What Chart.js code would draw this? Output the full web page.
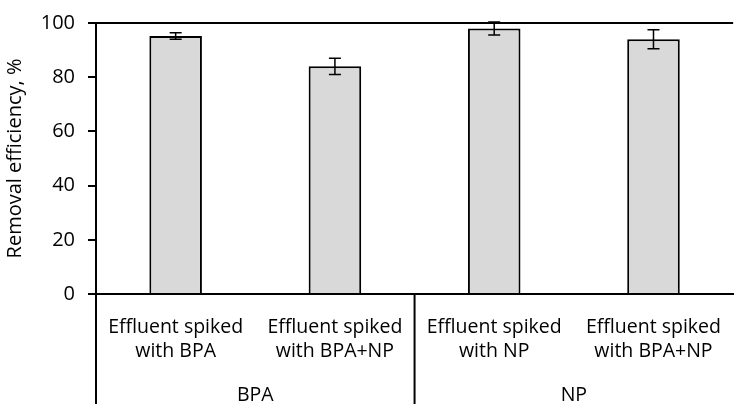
<!DOCTYPE html>
<html>
<head>
<meta charset="utf-8">
<script src="https://cdn.jsdelivr.net/npm/chart.js@4.4.1/dist/chart.umd.min.js"></script>
<style>
  html, body { margin: 0; padding: 0; background: #fff; }
  #wrap { width: 734px; height: 404px; }
</style>
</head>
<body>
<div id="wrap"><canvas id="barChart" width="734" height="404"></canvas></div>
<script>
// chart data
const categories = [
  ["Effluent spiked", "with BPA"],
  ["Effluent spiked", "with BPA+NP"],
  ["Effluent spiked", "with NP"],
  ["Effluent spiked", "with BPA+NP"]
];
const groups = ["BPA", "NP"];
const removal = [95.2, 84.0, 98.0, 94.0];
const errors = [1.2, 3.0, 2.4, 3.5];
const yTicks = [0, 20, 40, 60, 80, 100];

const FONT = "'Open Sans', sans-serif";

// error bars on top of each bar
const errorBars = {
  id: "errorBars",
  afterDatasetsDraw(chart) {
    const ctx = chart.ctx;
    const y = chart.scales.y;
    const meta = chart.getDatasetMeta(0);
    ctx.save();
    ctx.strokeStyle = "#000";
    ctx.lineWidth = 1.5;
    meta.data.forEach((bar, i) => {
      const hi = y.getPixelForValue(removal[i] + errors[i]);
      const lo = y.getPixelForValue(removal[i] - errors[i]);
      ctx.beginPath();
      ctx.moveTo(bar.x, hi);
      ctx.lineTo(bar.x, lo);
      ctx.moveTo(bar.x - 6, hi);
      ctx.lineTo(bar.x + 6, hi);
      ctx.moveTo(bar.x - 6, lo);
      ctx.lineTo(bar.x + 6, lo);
      ctx.stroke();
    });
    ctx.restore();
  }
};

// vertical separators of the two-level category axis
const groupLines = {
  id: "groupLines",
  afterDraw(chart) {
    const ctx = chart.ctx;
    const x = chart.scales.x;
    const area = chart.chartArea;
    const per = categories.length / groups.length;
    const xs = [area.left];
    for (let g = 1; g < groups.length; g++) {
      xs.push((x.getPixelForValue(g * per - 1) + x.getPixelForValue(g * per)) / 2);
    }
    ctx.save();
    ctx.strokeStyle = "#000";
    ctx.lineWidth = 2;
    xs.forEach(px => {
      ctx.beginPath();
      ctx.moveTo(px, area.bottom);
      ctx.lineTo(px, chart.height);
      ctx.stroke();
    });
    ctx.restore();
  }
};

new Chart(document.getElementById("barChart"), {
  type: "bar",
  data: {
    labels: categories,
    datasets: [{
      data: removal,
      backgroundColor: "#d9d9d9",
      borderColor: "#000",
      borderWidth: 2,
      categoryPercentage: 1,
      barPercentage: 0.33
    }]
  },
  options: {
    responsive: false,
    animation: false,
    layout: { padding: { top: 22, right: 0, left: 0, bottom: 0 } },
    plugins: {
      legend: { display: false },
      tooltip: { enabled: false }
    },
    scales: {
      y: {
        min: 0,
        max: 100,
        afterBuildTicks: scale => { scale.ticks = yTicks.map(v => ({ value: v })); },
        afterFit: scale => { scale.width = 96; },
        border: { display: true, color: "#000", width: 2 },
        grid: {
          color: c => (c.tick && c.tick.value === 100 ? "#000" : "rgba(0,0,0,0)"),
          lineWidth: 2,
          tickColor: "#000",
          tickLength: 8,
          drawOnChartArea: true
        },
        ticks: { color: "#000", font: { family: FONT, size: 20, lineHeight: 1 }, padding: 13 },
        title: {
          display: true,
          text: "Removal efficiency, %",
          color: "#000",
          font: { family: FONT, size: 20 },
          padding: { top: 3, bottom: 0 }
        }
      },
      x: {
        weight: 0,
        afterFit: scale => { scale.height = 82; },
        border: { display: true, color: "#000", width: 2 },
        grid: { display: false },
        ticks: {
          color: "#000",
          font: { family: FONT, size: 19.5, lineHeight: 1.25 },
          padding: 13,
          maxRotation: 0,
          autoSkip: false
        }
      },
      x2: {
        type: "category",
        labels: groups,
        position: "bottom",
        offset: true,
        weight: 1,
        afterFit: scale => { scale.height = 28; },
        border: { display: false },
        grid: { display: false },
        ticks: { color: "#000", font: { family: FONT, size: 19.5 }, padding: 0 }
      }
    }
  },
  plugins: [errorBars, groupLines]
});
</script>
</body>
</html>
